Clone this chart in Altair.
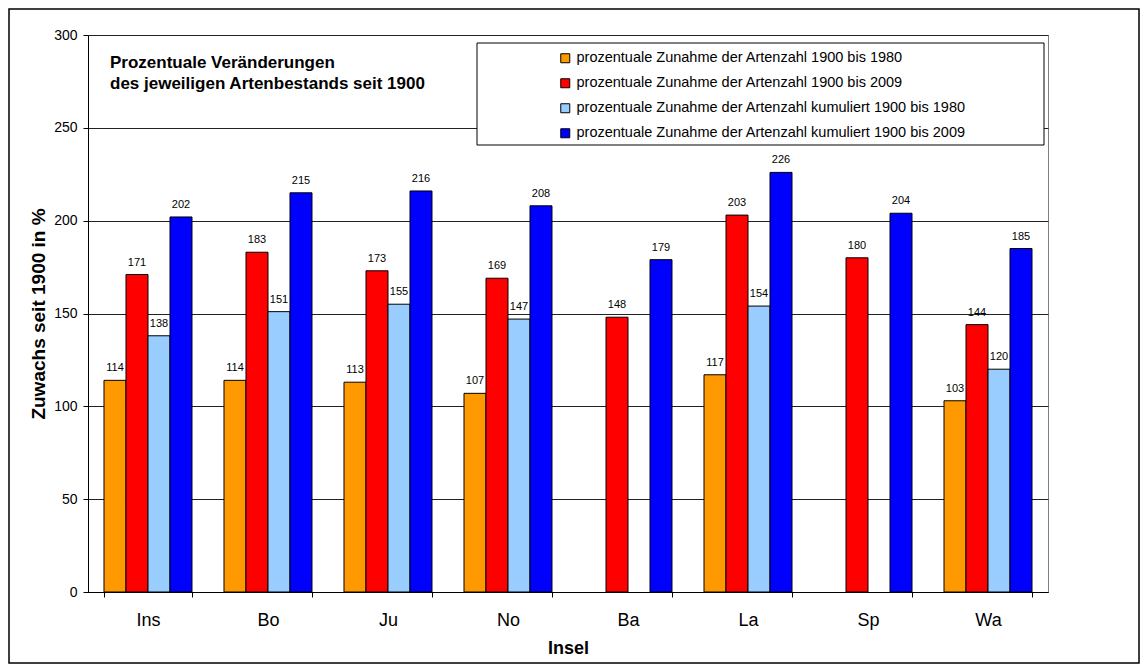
import altair as alt
import pandas as pd

islands = ["Ins", "Bo", "Ju", "No", "Ba", "La", "Sp", "Wa"]
series = [
    "prozentuale Zunahme der Artenzahl 1900 bis 1980",
    "prozentuale Zunahme der Artenzahl 1900 bis 2009",
    "prozentuale Zunahme der Artenzahl kumuliert 1900 bis 1980",
    "prozentuale Zunahme der Artenzahl kumuliert 1900 bis 2009",
]
colors = ["#FF9900", "#FF0000", "#99CCFF", "#0000FF"]
v_1980 = [114, 114, 113, 107, None, 117, None, 103]
v_2009 = [171, 183, 173, 169, 148, 203, 180, 144]
v_kum_1980 = [138, 151, 155, 147, None, 154, None, 120]
v_kum_2009 = [202, 215, 216, 208, 179, 226, 204, 185]
title_lines = "Prozentuale Veränderungen\ndes jeweiligen Artenbestands seit 1900"

rows = []
for s, vals in zip(series, [v_1980, v_2009, v_kum_1980, v_kum_2009]):
    for isl, v in zip(islands, vals):
        if v is not None:
            rows.append({"Insel": isl, "Serie": s, "Wert": v})
df = pd.DataFrame(rows)
one = pd.DataFrame({"k": [0]})

FONT = "Liberation Sans"

x_enc = alt.X("Insel:N", sort=islands, title="Insel",
              scale=alt.Scale(paddingInner=0.2667, paddingOuter=0.1333),
              axis=alt.Axis(labelAngle=0, labelFontSize=18, labelColor="black",
                            labelPadding=14, tickBand="extent", tickSize=5,
                            tickColor="black", domainColor="black",
                            titleFontSize=18, titleFontWeight="bold",
                            titleColor="black", titlePadding=10, grid=False,
                            labelFont=FONT, titleFont=FONT))
y_enc = alt.Y("Wert:Q", title="Zuwachs seit 1900 in %",
              scale=alt.Scale(domain=[0, 300], nice=False),
              axis=alt.Axis(values=[0, 50, 100, 150, 200, 250, 300],
                            labelFontSize=14, labelColor="black",
                            labelPadding=6, tickSize=5, tickColor="black",
                            domainColor="black", gridColor="#222222",
                            gridWidth=1, titleFontSize=19,
                            titleFontWeight="bold", titleColor="black",
                            titlePadding=5, labelFont=FONT, titleFont=FONT))
xoff = alt.XOffset("Serie:N", sort=series,
                   scale=alt.Scale(domain=series, paddingInner=0, paddingOuter=0))

bars = alt.Chart(df).mark_bar(stroke="black", strokeWidth=1).encode(
    x=x_enc, y=y_enc, xOffset=xoff,
    color=alt.Color("Serie:N", sort=series,
                    scale=alt.Scale(domain=series, range=colors),
                    legend=alt.Legend(title=None, orient="none", legendX=470,
                                      legendY=16, labelFontSize=14.5,
                                      labelFont=FONT, labelColor="black",
                                      labelLimit=600, symbolType="square",
                                      symbolSize=81, symbolStrokeColor="black",
                                      symbolStrokeWidth=1, rowPadding=10,
                                      labelOffset=4, padding=0)),
)

labels = alt.Chart(df).mark_text(baseline="bottom", dy=-7, fontSize=11,
                                 font=FONT, color="black").encode(
    x=alt.X("Insel:N", sort=islands), y="Wert:Q", xOffset=xoff,
    text="Wert:Q",
)

legend_box = alt.Chart(one).mark_rect(fill="white", stroke="black",
                                      strokeWidth=1).encode(
    x=alt.value(389), x2=alt.value(956), y=alt.value(8), y2=alt.value(110))

outer_box = alt.Chart(one).mark_rect(fill=None, stroke="black",
                                     strokeWidth=1.5).encode(
    x=alt.value(-79), x2=alt.value(1051), y=alt.value(-26), y2=alt.value(628))

title = alt.Chart(one).mark_text(align="left", baseline="middle", fontSize=17,
                                 fontWeight="bold", font=FONT, color="black",
                                 lineBreak="\n", lineHeight=21).encode(
    x=alt.value(22), y=alt.value(28),
    text=alt.value(title_lines))

chart = alt.layer(outer_box, bars, labels, legend_box, title).properties(
    width=960, height=557, padding=0,
    background="white",
).configure_view(stroke="#808080", strokeWidth=1)

chart.save("out.html", embed_options={"renderer": "svg", "actions": False})
